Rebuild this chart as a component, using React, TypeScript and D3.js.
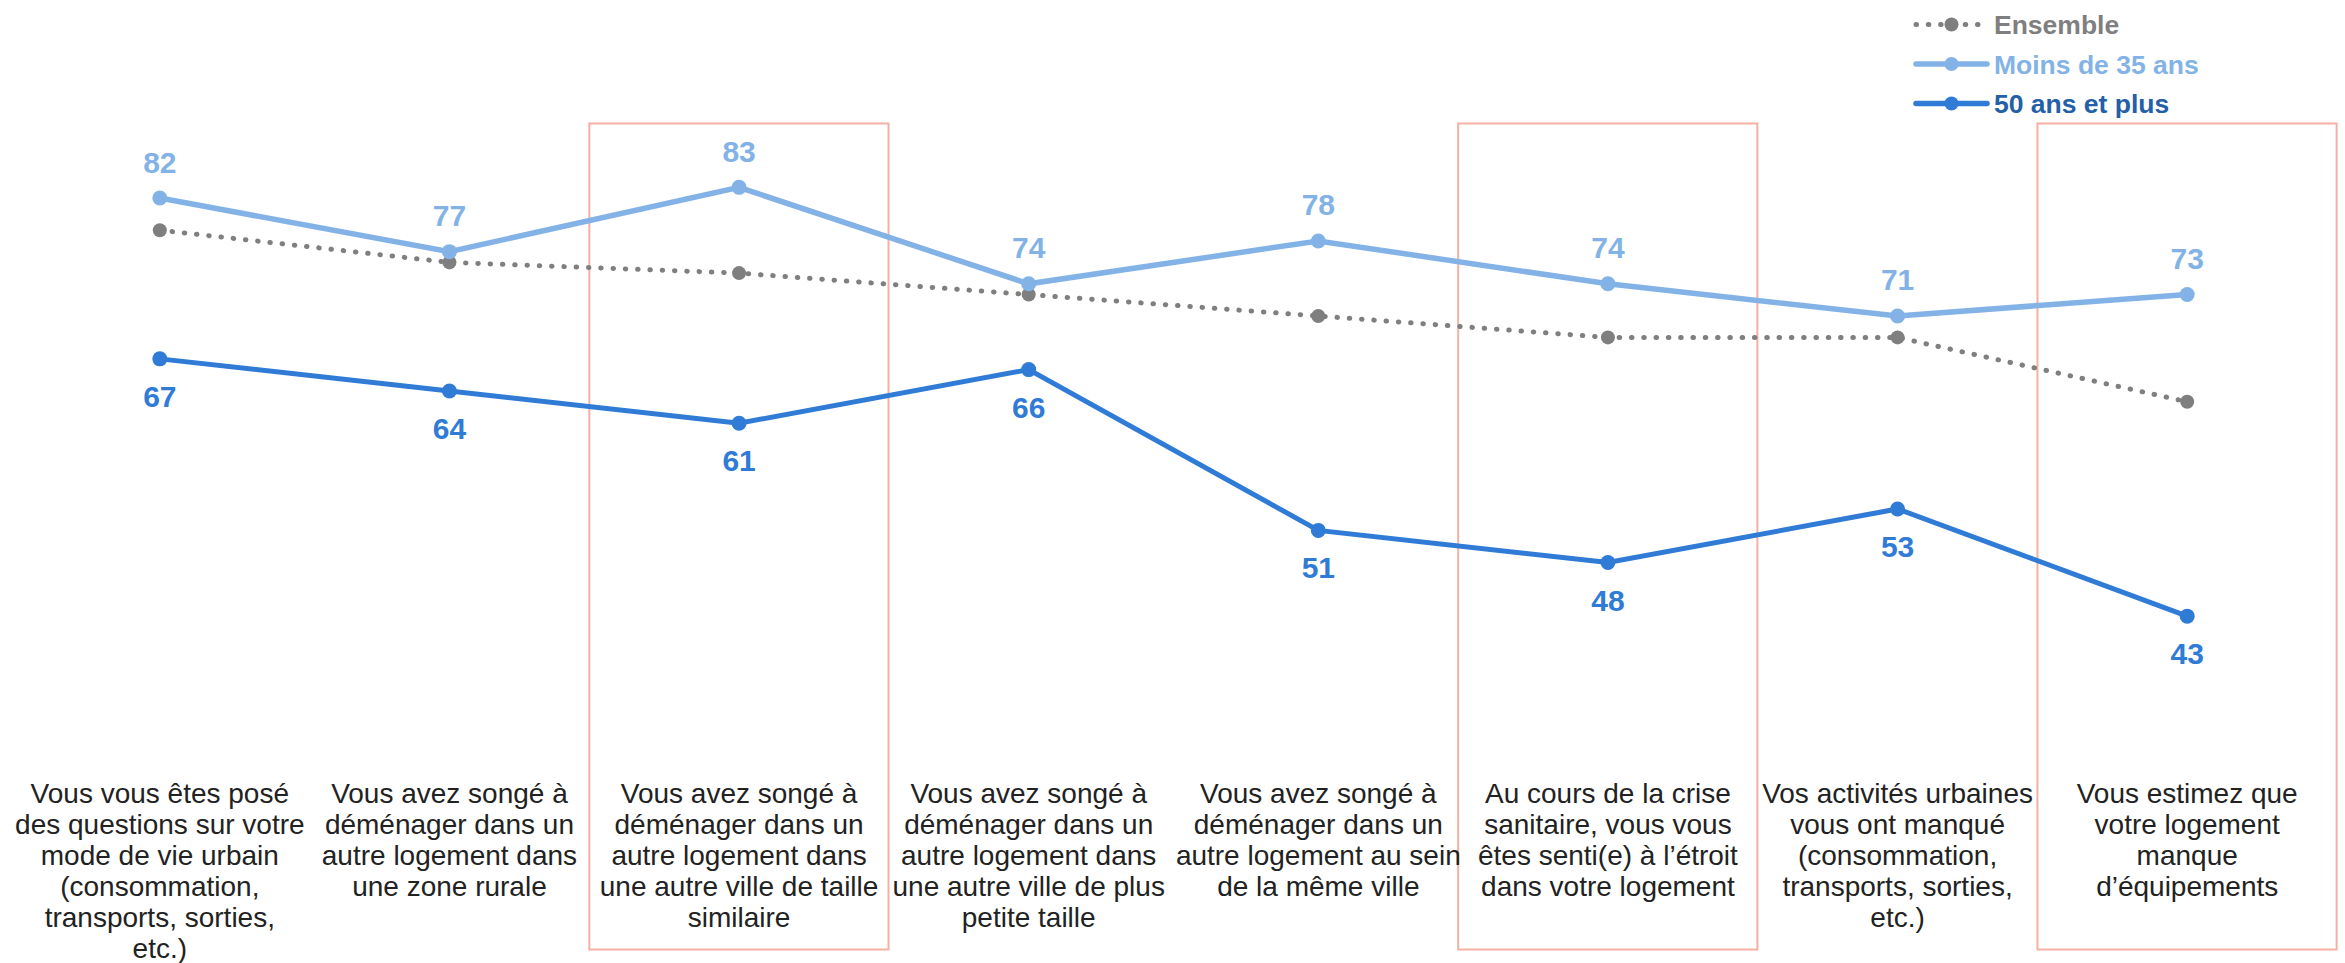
import { useEffect, useRef } from 'react';
import * as d3 from 'd3';

const categoryLines: string[][] = [
  ['Vous vous êtes posé', 'des questions sur votre', 'mode de vie urbain', '(consommation,', 'transports, sorties,', 'etc.)'],
  ['Vous avez songé à', 'déménager dans un', 'autre logement dans', 'une zone rurale'],
  ['Vous avez songé à', 'déménager dans un', 'autre logement dans', 'une autre ville de taille', 'similaire'],
  ['Vous avez songé à', 'déménager dans un', 'autre logement dans', 'une autre ville de plus', 'petite taille'],
  ['Vous avez songé à', 'déménager dans un', 'autre logement au sein', 'de la même ville'],
  ['Au cours de la crise', 'sanitaire, vous vous', 'êtes senti(e) à l’étroit', 'dans votre logement'],
  ['Vos activités urbaines', 'vous ont manqué', '(consommation,', 'transports, sorties,', 'etc.)'],
  ['Vous estimez que', 'votre logement', 'manque', 'd’équipements'],
];

const ensemble = [79, 76, 75, 73, 71, 69, 69, 63];
const moins35 = [82, 77, 83, 74, 78, 74, 71, 73];
const plus50 = [67, 64, 61, 66, 51, 48, 53, 43];

// categories framed in red
const highlighted = [2, 5, 7];

const legendItems = [
  { label: 'Ensemble', color: '#7f7f7f', text: '#7f7f7f', dotted: true },
  { label: 'Moins de 35 ans', color: '#83b3e6', text: '#83b3e6', dotted: false },
  { label: '50 ans et plus', color: '#2f7bd6', text: '#2360a8', dotted: false },
];

const W = 2345;
const H = 963;
const FONT = '"Liberation Sans", Arial, Helvetica, sans-serif';

export default function App() {
  const svgRef = useRef<SVGSVGElement>(null);

  useEffect(() => {
    if (!svgRef.current) return;
    const svg = d3.select(svgRef.current);
    svg.selectAll('*').remove();

    const idx = d3.range(categoryLines.length);
    const x = d3.scaleBand<number>().domain(idx).range([15, 2332]).padding(0);
    const cx = (i: number) => (x(i) as number) + x.bandwidth() / 2;
    const y = d3.scaleLinear().domain([40, 90]).range([648.3, 112.3]);

    svg.append('rect').attr('width', W).attr('height', H).attr('fill', '#ffffff');

    // Highlight frames
    svg.selectAll('.frame')
      .data(highlighted)
      .enter()
      .append('rect')
      .attr('class', 'frame')
      .attr('x', d => cx(d) - x.bandwidth() * 0.517)
      .attr('y', 123.5)
      .attr('width', x.bandwidth() * 1.033)
      .attr('height', 826)
      .attr('fill', 'none')
      .attr('stroke', '#f6b0a2')
      .attr('stroke-width', 2);

    const line = d3.line<number>()
      .x((_, i) => cx(i))
      .y(d => y(d));

    // Ensemble (dotted)
    svg.append('path')
      .datum(ensemble)
      .attr('fill', 'none')
      .attr('stroke', '#7f7f7f')
      .attr('stroke-width', 5)
      .attr('stroke-linecap', 'round')
      .attr('stroke-dasharray', '0.5,11.8')
      .attr('d', line);

    svg.selectAll('.dot-ens')
      .data(ensemble)
      .enter()
      .append('circle')
      .attr('cx', (_, i) => cx(i))
      .attr('cy', d => y(d))
      .attr('r', 7)
      .attr('fill', '#7f7f7f');

    // Moins de 35 ans
    svg.append('path')
      .datum(moins35)
      .attr('fill', 'none')
      .attr('stroke', '#83b3e6')
      .attr('stroke-width', 5.5)
      .attr('d', line);

    svg.selectAll('.dot-m35')
      .data(moins35)
      .enter()
      .append('circle')
      .attr('cx', (_, i) => cx(i))
      .attr('cy', d => y(d))
      .attr('r', 7.5)
      .attr('fill', '#83b3e6');

    // 50 ans et plus
    svg.append('path')
      .datum(plus50)
      .attr('fill', 'none')
      .attr('stroke', '#2f7bd6')
      .attr('stroke-width', 5)
      .attr('d', line);

    svg.selectAll('.dot-p50')
      .data(plus50)
      .enter()
      .append('circle')
      .attr('cx', (_, i) => cx(i))
      .attr('cy', d => y(d))
      .attr('r', 7.5)
      .attr('fill', '#2f7bd6');

    // Data labels
    svg.selectAll('.lbl-m35')
      .data(moins35)
      .enter()
      .append('text')
      .attr('x', (_, i) => cx(i))
      .attr('y', d => y(d) - 25.5)
      .attr('text-anchor', 'middle')
      .attr('fill', '#83b3e6')
      .style('font-family', FONT)
      .style('font-weight', 'bold')
      .style('font-size', '30px')
      .text(d => d);

    svg.selectAll('.lbl-p50')
      .data(plus50)
      .enter()
      .append('text')
      .attr('x', (_, i) => cx(i))
      .attr('y', d => y(d) + 48)
      .attr('text-anchor', 'middle')
      .attr('fill', '#2f7bd6')
      .style('font-family', FONT)
      .style('font-weight', 'bold')
      .style('font-size', '30px')
      .text(d => d);

    // Category labels
    categoryLines.forEach((lines, i) => {
      const t = svg.append('text')
        .attr('text-anchor', 'middle')
        .attr('fill', '#222222')
        .style('font-family', FONT)
        .style('font-size', '28px');
      lines.forEach((ln, j) => {
        t.append('tspan')
          .attr('x', cx(i))
          .attr('y', 803 + j * 31)
          .text(ln);
      });
    });

    // Legend
    const legend = svg.append('g').attr('transform', 'translate(1916, 24.5)');
    legendItems.forEach((item, i) => {
      const row = legend.append('g').attr('transform', `translate(0, ${i * 39.5})`);
      row.append('line')
        .attr('x1', 0)
        .attr('x2', 71)
        .attr('y1', 0)
        .attr('y2', 0)
        .attr('stroke', item.color)
        .attr('stroke-width', item.dotted ? 5 : 5.5)
        .attr('stroke-linecap', 'round')
        .attr('stroke-dasharray', item.dotted ? '0.5,11.8' : null);
      row.append('circle')
        .attr('cx', 35.5)
        .attr('cy', 0)
        .attr('r', 7)
        .attr('fill', item.color);
      row.append('text')
        .attr('x', 78)
        .attr('y', 9.5)
        .attr('fill', item.text)
        .style('font-family', FONT)
        .style('font-weight', 'bold')
        .style('font-size', '26.5px')
        .text(item.label);
    });
  }, []);

  return (
    <svg
      ref={svgRef}
      width={W}
      height={H}
      style={{ position: 'absolute', left: 0, top: 0, display: 'block' }}
    />
  );
}
